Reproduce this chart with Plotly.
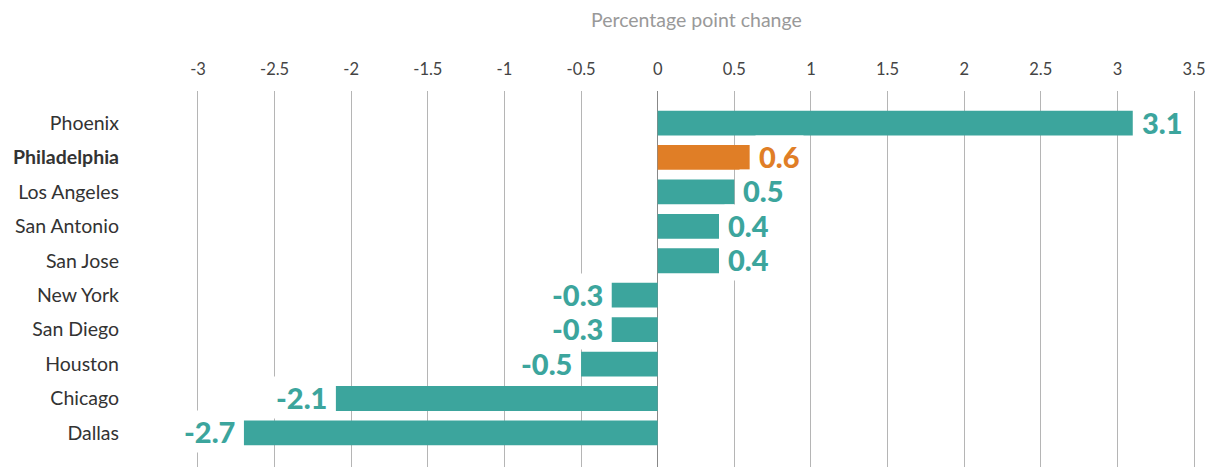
import plotly.graph_objects as go

cities = ["Phoenix", "Philadelphia", "Los Angeles", "San Antonio", "San Jose",
          "New York", "San Diego", "Houston", "Chicago", "Dallas"]
values = [3.1, 0.6, 0.5, 0.4, 0.4, -0.3, -0.3, -0.5, -2.1, -2.7]
highlight = "Philadelphia"
x_tick_vals = [-3, -2.5, -2, -1.5, -1, -0.5, 0, 0.5, 1, 1.5, 2, 2.5, 3, 3.5]
x_tick_text = ["-3", "-2.5", "-2", "-1.5", "-1", "-0.5", "0", "0.5", "1", "1.5", "2", "2.5", "3", "3.5"]
axis_title = "Percentage point change"

TEAL = "#3ca59d"
ORANGE = "#e07e26"
FONT = "Lato"

colors = [ORANGE if c == highlight else TEAL for c in cities]
y_text = [f"<b>{c}</b>" if c == highlight else c for c in cities]

fig = go.Figure()
fig.add_bar(x=values, y=cities, orientation="h", marker_color=colors,
            marker_line_width=0, width=0.72, hoverinfo="skip")

for c, v, col in zip(cities, values, colors):
    fig.add_annotation(
        x=v, y=c, xref="x", yref="y", text=f"{v:g}", showarrow=False,
        xanchor="left" if v >= 0 else "right", yanchor="middle",
        xshift=5 if v >= 0 else -5, yshift=1,
        bgcolor="white", borderpad=3,
        font=dict(family=FONT, size=29, color=col, weight=900),
    )

fig.add_annotation(
    x=0.517, y=1, xref="paper", yref="paper", yshift=72, text=axis_title,
    showarrow=False, xanchor="center", yanchor="middle",
    font=dict(family=FONT, size=19.5, color="#999999"),
)

fig.update_layout(
    width=1205, height=459,
    margin=dict(l=142, r=5, t=83, b=0),
    paper_bgcolor="white", plot_bgcolor="white",
    showlegend=False,
    xaxis=dict(
        side="top", range=[-3.313, 3.591], automargin=False,
        tickvals=x_tick_vals, ticktext=x_tick_text,
        showgrid=True, gridcolor="#b5b5b5", gridwidth=1,
        zeroline=True, zerolinecolor="#888888", zerolinewidth=1.2,
        showline=False, ticks="", ticklabelstandoff=12,
        tickfont=dict(family=FONT, size=16.5, color="#444444"),
    ),
    yaxis=dict(
        type="category", categoryorder="array", categoryarray=cities,
        range=[9.99, -0.93], tickvals=cities, ticktext=y_text,
        automargin=False,
        showgrid=False, zeroline=False, showline=False, ticks="",
        ticklabelstandoff=30,
        tickfont=dict(family=FONT, size=19.5, color="#333333"),
    ),
)

fig.write_html("out.html")
